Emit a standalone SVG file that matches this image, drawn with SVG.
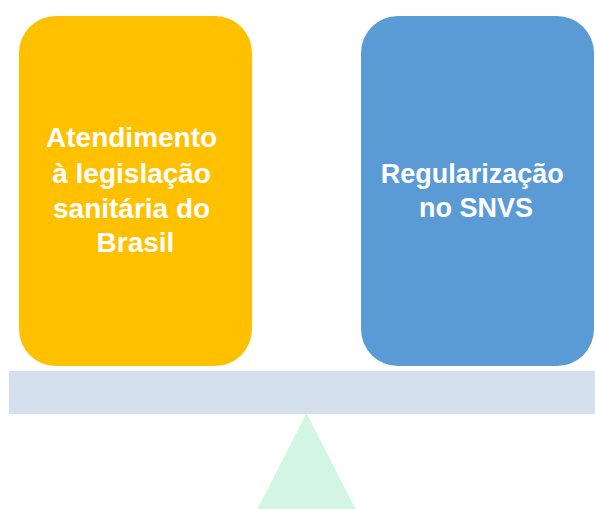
<svg xmlns="http://www.w3.org/2000/svg" width="595" height="509" viewBox="0 0 595 509">
  <style>
    .lbl { font-family: "Liberation Sans", Arial, sans-serif; font-weight: bold; font-size: 28px; fill: #ffffff; text-anchor: middle; }
    .sm { font-size: 27px; }
  </style>
  <rect width="595" height="509" fill="#ffffff"/>
  <g id="fulcrum">
    <polygon points="306.5,413 355.5,509 257.5,509" fill="#D3F5E6"/>
  </g>
  <g id="beam">
    <rect x="9" y="371" width="590" height="43" rx="1" fill="#D5E0EE"/>
  </g>
  <g id="node-left">
    <rect x="19" y="16" width="233" height="350" rx="37" ry="37" fill="#FFC000"/>
    <text class="lbl">
      <tspan x="135.5" y="147">Atendimento</tspan>
      <tspan x="135.5" y="182.5">à legislação</tspan>
      <tspan x="135.5" y="218">sanitária do</tspan>
      <tspan x="135.5" y="252">Brasil</tspan>
    </text>
  </g>
  <g id="node-right">
    <rect x="361" y="16" width="233" height="350" rx="37" ry="37" fill="#5B9BD5"/>
    <text class="lbl sm">
      <tspan x="476" y="183">Regularização</tspan>
      <tspan x="476" y="217">no SNVS</tspan>
    </text>
  </g>
  <g id="connectors"></g>
</svg>
